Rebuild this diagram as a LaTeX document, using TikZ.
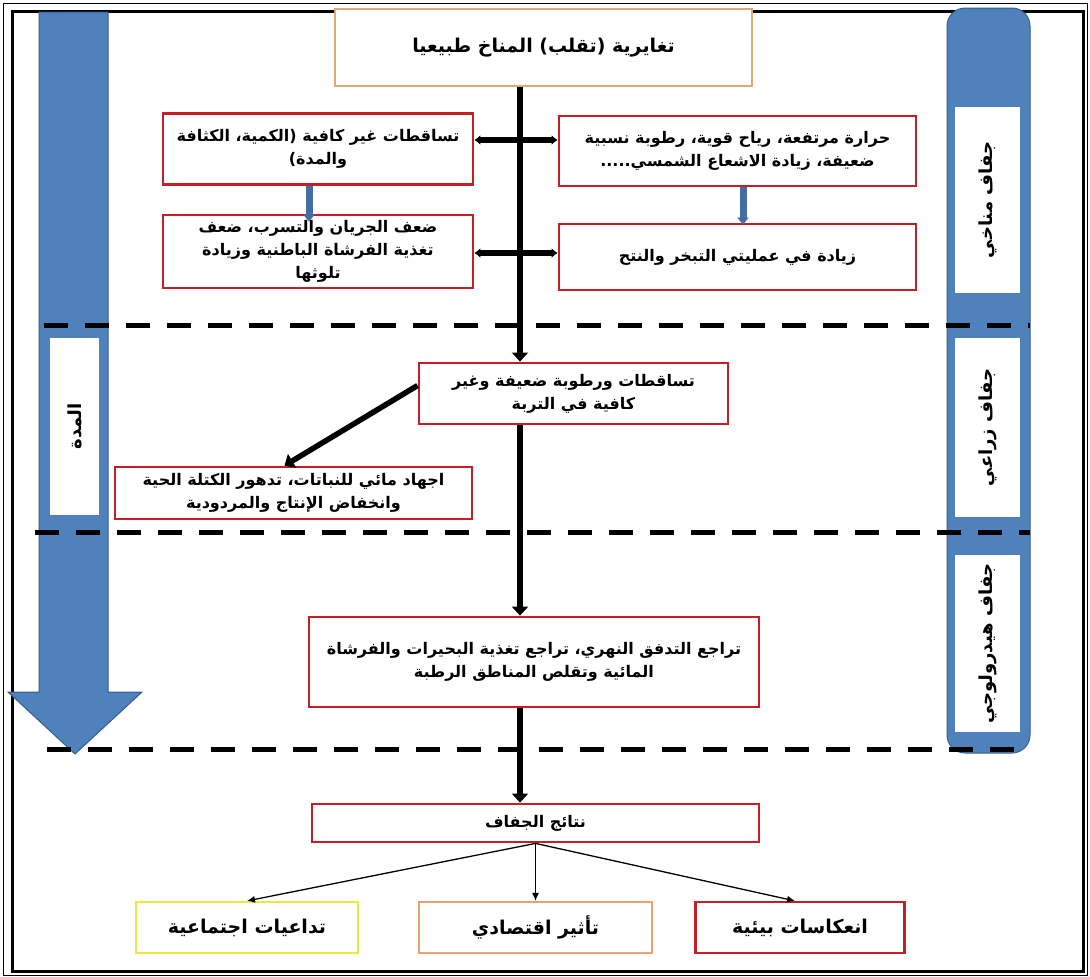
\documentclass[tikz,border=0pt]{standalone}
\usepackage{fontspec}
\usepackage{tikz}
\usetikzlibrary{arrows.meta}
\newfontfamily\arabicfont[Script=Arabic]{DejaVu Sans}
\TeXXeTstate=1
\newcommand{\artext}[1]{\beginR #1\endR}
\definecolor{boxred}{RGB}{196,30,38}
\definecolor{boxtan}{RGB}{222,172,112}
\definecolor{boxyellow}{RGB}{240,230,60}
\definecolor{boxorange}{RGB}{236,162,112}
\definecolor{barblue}{RGB}{79,129,189}
\definecolor{bardark}{RGB}{56,93,138}
\tikzstyle{redbox}=[rectangle, draw=boxred, line width=2.8pt, fill=white, inner sep=0pt, align=center, font=\arabicfont\bfseries\fontsize{16}{23}\selectfont]
\tikzstyle{topbox}=[redbox, draw=boxtan, line width=1.6pt, font=\arabicfont\bfseries\fontsize{19}{23}\selectfont]
\tikzstyle{endbox}=[redbox, line width=2.2pt, font=\arabicfont\bfseries\fontsize{19}{23}\selectfont]
\tikzstyle{side}=[rectangle, fill=white, inner sep=0pt, rotate=90, font=\arabicfont\bfseries\fontsize{18}{20}\selectfont]
\tikzstyle{bar}=[fill=barblue, draw=bardark, line width=1pt]
\tikzstyle{divider}=[line width=5pt, dash pattern=on 24pt off 17pt]
\tikzstyle{trunk}=[line width=5.5pt, -{Triangle[length=9pt,width=16pt]}]
\tikzstyle{link}=[line width=5.5pt, {Latex[length=6pt,width=10pt]}-{Latex[length=6pt,width=10pt]}]
\tikzstyle{feed}=[draw=barblue!85!black, line width=7pt, -{Triangle[length=7pt,width=11pt]}]
\tikzstyle{branch}=[line width=1.3pt, -{Latex[length=8pt,width=7pt]}]

\begin{document}
\begin{tikzpicture}[x=1pt,y=-1pt]
				\useasboundingbox (0,0) rectangle (1090,977);
				
				%The frame
				\draw[line width=0.8pt] (3,3) rectangle (1087,975);
				\draw[line width=3pt] (12,11) rectangle (1083,971);
				
				%The duration arrow on the left
				\draw[bar] (39,12) -- (108,12) -- (108,692) -- (142,692) -- (75,754) -- (8,692) -- (39,692) -- cycle;
				\draw (74.5,426.5) node[side, minimum width=177pt, minimum height=49pt] (time) {\artext{المدة}};
				
				%The drought stages on the right
				\draw[bar, rounded corners=18pt] (947,8) rectangle (1030,753);
				\draw (987.5,200) node[side, minimum width=186pt, minimum height=65pt] (stage1) {\artext{جفاف مناخي}};
				\draw (987.5,427.5) node[side, minimum width=179pt, minimum height=65pt] (stage2) {\artext{جفاف زراعي}};
				\draw (987.5,643.5) node[side, minimum width=177pt, minimum height=65pt] (stage3) {\artext{جفاف هيدرولوجي}};
				
				%The dividers
				\draw[divider] (44,325) -- (1030,325);
				\draw[divider] (35,532) -- (1030,532);
				\draw[divider] (47,749) -- (1030,749);
				
				%The causes
				\draw (543.5,47.5) node[topbox, minimum width=417pt, minimum height=77pt] (nat) {\artext{تغايرية (تقلب) المناخ طبيعيا}};
				\draw (318,149) node[redbox, minimum width=310pt, minimum height=71pt] (rain) {\artext{تساقطات غير كافية (الكمية، الكثافة}\\\artext{والمدة)}};
				\draw (737.5,151) node[redbox, minimum width=357pt, minimum height=70pt] (heat) {\artext{حرارة مرتفعة، رياح قوية، رطوبة نسبية}\\\artext{ضعيفة، زيادة الاشعاع الشمسي.....}};
				\draw (318,251.5) node[redbox, minimum width=310pt, minimum height=73pt] (water) {\artext{ضعف الجريان والتسرب، ضعف}\\\artext{تغذية الفرشاة الباطنية وزيادة}\\\artext{تلوثها}};
				\draw (737.5,257) node[redbox, minimum width=357pt, minimum height=66pt] (evap) {\artext{زيادة في عمليتي التبخر والنتح}};
				
				%The soil and the rivers
				\draw (573.5,393.5) node[redbox, minimum width=309pt, minimum height=61pt] (soil) {\artext{تساقطات ورطوبة ضعيفة وغير}\\\artext{كافية في التربة}};
				\draw (293.5,493) node[redbox, minimum width=357pt, minimum height=52pt] (stress) {\artext{اجهاد مائي للنباتات، تدهور الكتلة الحية}\\\artext{وانخفاض الإنتاج والمردودية}};
				\draw (534,662) node[redbox, minimum width=450pt, minimum height=90pt] (rivers) {\artext{تراجع التدفق النهري، تراجع تغذية البحيرات والفرشاة}\\\artext{المائية وتقلص المناطق الرطبة}};
				
				%The results
				\draw (535.5,823) node[redbox, minimum width=447pt, minimum height=38pt] (result) {\artext{نتائج الجفاف}};
				\draw (247,927.5) node[endbox, draw=boxyellow, minimum width=222pt, minimum height=51pt] (social) {\artext{تداعيات اجتماعية}};
				\draw (535.5,927.5) node[endbox, draw=boxorange, minimum width=233pt, minimum height=51pt] (econ) {\artext{تأثير اقتصادي}};
				\draw (800,927.5) node[endbox, minimum width=209pt, minimum height=51pt] (env) {\artext{انعكاسات بيئية}};
				
				\coordinate (axis) at (520,0);
				\draw[trunk] (nat.south -| axis) -- (soil.north -| axis);
				\draw[link] ([yshift=9pt]rain.east) -- ([yshift=11pt]heat.west);
				\draw[link] ([yshift=-1.5pt]water.east) -- ([yshift=4pt]evap.west);
				\draw[feed] ([xshift=-9pt]rain.south) -- ([xshift=-9pt,yshift=-8pt]water.north);
				\draw[feed] ([xshift=5.5pt]heat.south) -- ([xshift=5.5pt,yshift=-2pt]evap.north);
				
				\draw[trunk] ([yshift=8pt]soil.west) -- ([xshift=-9pt]stress.north);
				\draw[trunk] (soil.south -| axis) -- (rivers.north -| axis);
				\draw[trunk] (rivers.south -| axis) -- (result.north -| axis);
				
				\draw[branch] (result.south) -- (social.north);
				\draw[branch] (result.south) -- (econ.north);
				\draw[branch] (result.south) -- ([xshift=-5pt]env.north);
			\end{tikzpicture}
\end{document}
